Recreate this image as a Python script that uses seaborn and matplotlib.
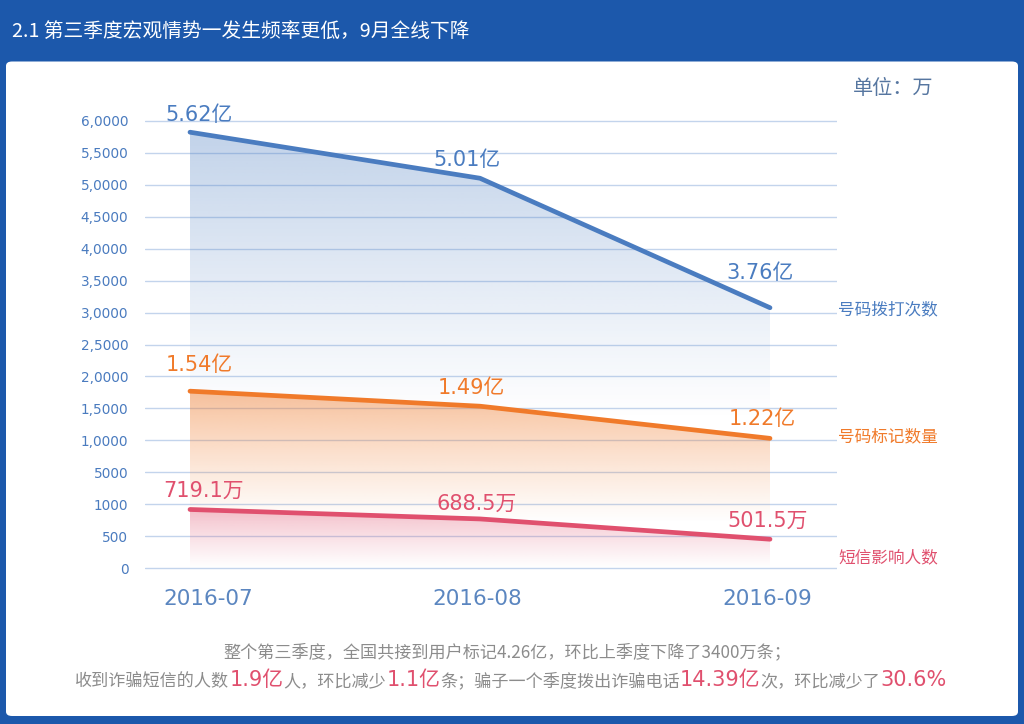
import numpy as np
import pandas as pd
import matplotlib
matplotlib.use("Agg")
import matplotlib.pyplot as plt
import matplotlib.colors as mcolors
import matplotlib.transforms as mtransforms
from matplotlib.patches import FancyBboxPatch
from matplotlib.offsetbox import TextArea, HPacker, AnchoredOffsetbox
import seaborn as sns

# ---------------- data ----------------
months = ["2016-07", "2016-08", "2016-09"]
series_names = ["号码拨打次数", "号码标记数量", "短信影响人数"]
calls = [58200, 51000, 30750]        # 号码拨打次数 (plotted height, 万)
marks = [17700, 15350, 10320]        # 号码标记数量
sms = [920, 772, 455]                # 短信影响人数
calls_labels = ["5.62亿", "5.01亿", "3.76亿"]
marks_labels = ["1.54亿", "1.49亿", "1.22亿"]
sms_labels = ["719.1万", "688.5万", "501.5万"]
ytick_values = [0, 500, 1000, 5000, 10000, 15000, 20000, 25000, 30000,
                35000, 40000, 45000, 50000, 55000, 60000]
ytick_labels = ["0", "500", "1000", "5000", "1,0000", "1,5000", "2,0000",
                "2,5000", "3,0000", "3,5000", "4,0000", "4,5000", "5,0000",
                "5,5000", "6,0000"]
title_text = "2.1 第三季度宏观情势一发生频率更低，9月全线下降"
unit_text = "单位：万"
note_line1 = "整个第三季度，全国共接到用户标记4.26亿，环比上季度下降了3400万条；"
note_line2 = [("收到诈骗短信的人数", False), ("1.9亿", True), ("人，环比减少", False),
              ("1.1亿", True), ("条；骗子一个季度拨出诈骗电话", False), ("14.39亿", True),
              ("次，环比减少了", False), ("30.6%", True)]

colors = {"号码拨打次数": "#4a7cc0", "号码标记数量": "#f07a2a", "短信影响人数": "#e0506e"}

# ---------------- style ----------------
sns.set_theme(style="white")
plt.rcParams["font.family"] = ["Noto Sans CJK SC", "DejaVu Sans"]
num_family = ["DejaVu Sans", "Noto Sans CJK SC"]

W, H = 1024, 724
fig = plt.figure(figsize=(W / 100, H / 100), dpi=100)
fig.patch.set_facecolor("#1c58ab")

# white panel
panel = FancyBboxPatch((6 / W, 1 - 716 / H), (1018 - 6) / W, (716 - 61.5) / H,
                       boxstyle="round,pad=0,rounding_size=0.006",
                       transform=fig.transFigure, facecolor="white",
                       edgecolor="none", zorder=-10)
fig.patches.append(panel)

# ---------------- axes with piecewise y-scale ----------------
ext_vals = np.array([-500] + ytick_values + [65000], dtype=float)
ext_idx = np.arange(-1, len(ytick_values) + 1, dtype=float)


def fwd(v):
    return np.interp(np.asarray(v, dtype=float), ext_vals, ext_idx)


def inv(i):
    return np.interp(np.asarray(i, dtype=float), ext_idx, ext_vals)


px_per_idx = (568.3 - 120.7) / 14
ylo_idx, yhi_idx = -0.3, 14.15
ax_bottom_px = 568.3 - ylo_idx * px_per_idx
ax_top_px = 120.7 - (yhi_idx - 14) * px_per_idx
ax_left_px, ax_right_px = 145, 837
ax = fig.add_axes([ax_left_px / W, 1 - ax_bottom_px / H,
                   (ax_right_px - ax_left_px) / W, (ax_bottom_px - ax_top_px) / H])
ax.set_zorder(1)
ax.set_facecolor("none")
ax.set_yscale("function", functions=(fwd, inv))

df = pd.DataFrame({
    "x": list(range(3)) * 3,
    "value": calls + marks + sms,
    "series": [s for s in series_names for _ in range(3)],
})

sns.lineplot(data=df, x="x", y="value", hue="series", palette=colors,
             linewidth=3.4, legend=False, ax=ax, sort=False, zorder=5)
for ln in ax.lines:
    ln.set_solid_capstyle("round")
    ln.set_solid_joinstyle("round")

# x limits: data x=0 -> px 190, x=2 -> px 770
px_per_x = (770 - 190) / 2
xlo = (ax_left_px - 190) / px_per_x
xhi = (ax_right_px - 190) / px_per_x
ylo_val, yhi_val = inv(ylo_idx), inv(yhi_idx)


def xfrac(x):
    return (x - xlo) / (xhi - xlo)


def yfrac(v):
    return (fwd(v) - ylo_idx) / (yhi_idx - ylo_idx)


def grad_fill(ys, color, a_top, fade_val, z):
    xs = np.arange(len(ys))
    coll = ax.fill_between(xs, ys, 0, facecolor="none", edgecolor="none")
    path = coll.get_paths()[0]
    n = 400
    f_top, f_bot, f_fade = yfrac(max(ys)), yfrac(0), yfrac(fade_val)
    rows = np.linspace(f_top, f_bot, n)  # top -> bottom
    t = np.clip((rows - f_fade) / (f_top - f_fade), 0, 1)
    img = np.zeros((n, 1, 4))
    img[..., :3] = mcolors.to_rgb(color)
    img[..., 3] = (a_top * t ** 1.1)[:, None]
    im = ax.imshow(img, extent=[xfrac(0), xfrac(len(ys) - 1), f_bot, f_top],
                   transform=ax.transAxes, aspect="auto", origin="upper",
                   interpolation="bilinear", zorder=z)
    im.set_clip_path(path, transform=ax.transData)


grad_fill(calls, colors["号码拨打次数"], 0.34, 13000, 1.0)
grad_fill(marks, colors["号码标记数量"], 0.47, 700, 1.1)
grad_fill(sms, colors["短信影响人数"], 0.36, 0, 1.2)

ax.set_xlim(xlo, xhi)
ax.set_ylim(ylo_val, yhi_val)

# grid / ticks
ax.set_yticks(ytick_values)
ax.set_yticklabels(ytick_labels, family=num_family, fontsize=9.8, color="#4a7bbf")
ax.set_xticks(range(3))
ax.set_xticklabels(months, family=num_family, fontsize=15.5, color="#5b86c0")
ax.tick_params(axis="y", length=0, pad=12)
ax.tick_params(axis="x", length=0, pad=8)
lbl0 = ax.get_xticklabels()[0]
lbl0.set_transform(lbl0.get_transform() + mtransforms.ScaledTranslation(0.18, 0, fig.dpi_scale_trans))
for lbl in ax.get_xticklabels()[1:]:
    lbl.set_transform(lbl.get_transform() + mtransforms.ScaledTranslation(-0.03, 0, fig.dpi_scale_trans))
ax.yaxis.grid(True, color="#c3d4ec", linewidth=1.0, zorder=0.5)
ax.xaxis.grid(False)
ax.set_axisbelow(True)
for sp in ax.spines.values():
    sp.set_visible(False)
ax.set_xlabel("")
ax.set_ylabel("")

# value annotations (offsets in px: dx, dy-up)
ann_offsets = {
    "号码拨打次数": [(9, 17), (-13, 18), (-10, 35)],
    "号码标记数量": [(9, 26), (-9, 18), (-8, 19)],
    "短信影响人数": [(14, 19), (-3, 15), (-2, 18)],
}
for name, vals, labs in zip(series_names, [calls, marks, sms],
                            [calls_labels, marks_labels, sms_labels]):
    for i, (v, t) in enumerate(zip(vals, labs)):
        dx, dy = ann_offsets[name][i]
        ax.annotate(t, (i, v), xytext=(dx * 0.72, dy * 0.72), textcoords="offset points",
                    ha="center", va="center", fontsize=15, color=colors[name],
                    family=num_family, annotation_clip=False, zorder=6)

# series labels on right
for name, ypx in zip(series_names, [310, 437, 558]):
    fig.text(838 / W, 1 - ypx / H, name, color=colors[name], fontsize=12,
             ha="left", va="center")

# unit
fig.text(853 / W, 1 - 89 / H, unit_text, color="#5676a0", fontsize=14.5,
         ha="left", va="center")

# title
fig.text(12 / W, 1 - 32 / H, title_text, color="white", fontsize=14.2,
         ha="left", va="center")

# notes
fig.text(507 / W, 1 - 652 / H, note_line1, color="#8c8c8c", fontsize=12.3,
         ha="center", va="center")
boxes = []
for t, hl in note_line2:
    if hl:
        props = dict(color="#e0506e", fontsize=15, family=["DejaVu Sans", "Noto Sans CJK SC"])
    else:
        props = dict(color="#8c8c8c", fontsize=12.3, family=["Noto Sans CJK SC", "DejaVu Sans"])
    boxes.append(TextArea(t, textprops=props))
pack = HPacker(children=boxes, align="baseline", pad=0, sep=0)
anch = AnchoredOffsetbox(loc="center", child=pack, pad=0, borderpad=0, frameon=False,
                         bbox_to_anchor=(511 / W, 1 - 680 / H),
                         bbox_transform=fig.transFigure)
fig.add_artist(anch)

fig.savefig("out.png", dpi=100, facecolor=fig.get_facecolor())
